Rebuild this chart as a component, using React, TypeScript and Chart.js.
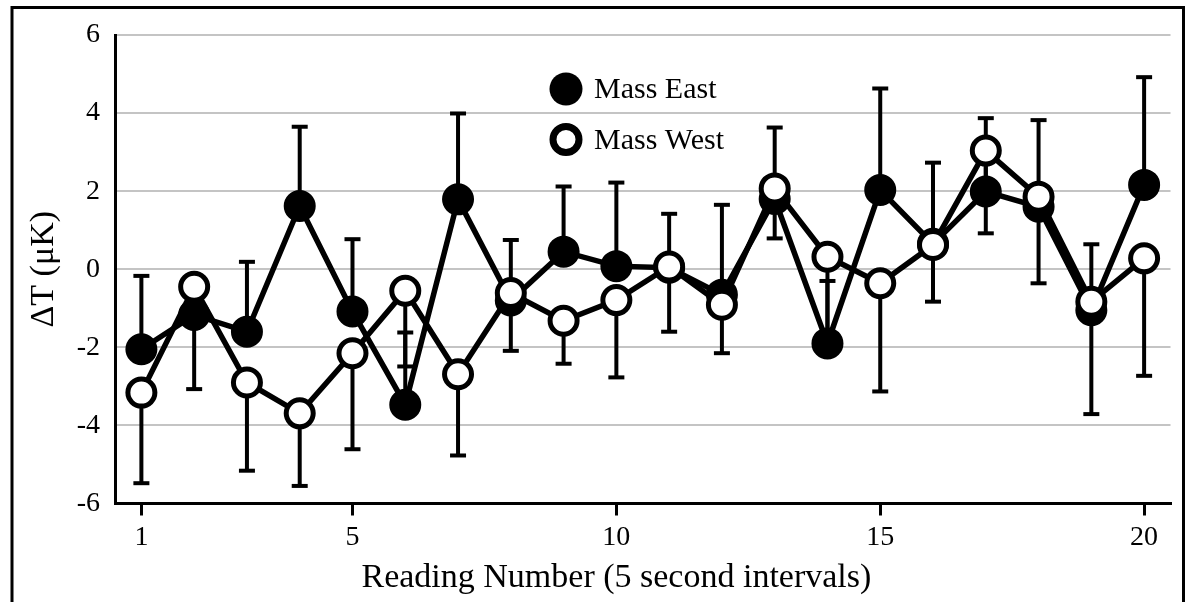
import React, { useEffect, useRef } from "react";
import { Chart, registerables } from "chart.js";

Chart.register(...registerables);

// ---- data ----
const readings = [1, 2, 3, 4, 5, 6, 7, 8, 9, 10, 11, 12, 13, 14, 15, 16, 17, 18, 19, 20];
const massEast = [-2.05, -1.17, -1.6, 1.62, -1.08, -3.47, 1.79, -0.8, 0.45, 0.08, 0.04, -0.65, 1.8, -1.9, 2.03, 0.65, 1.99, 1.6, -1.05, 2.16];
const massEastErrUp = [1.88, 0.7, 1.79, 2.03, 1.85, 1.85, 2.2, 1.55, 1.67, 2.14, 1.38, 2.3, 1.83, 1.6, 2.6, 2.08, 1.88, 2.22, 1.69, 2.76];
const massWest = [-3.16, -0.45, -2.9, -3.69, -2.15, -0.55, -2.69, -0.61, -1.32, -0.79, 0.07, -0.91, 2.07, 0.32, -0.36, 0.62, 3.04, 1.86, -0.83, 0.28];
const massWestErrDown = [2.32, 2.62, 2.26, 1.86, 2.46, 1.94, 2.08, 1.48, 1.1, 1.98, 1.67, 1.24, 1.28, 2.1, 2.77, 1.45, 2.12, 2.22, 2.88, 3.01];
const xTickValues = [1, 5, 10, 15, 20];
const yTickValues = [-6, -4, -2, 0, 2, 4, 6];
const seriesNames = ["Mass East", "Mass West"];
const xTitle = "Reading Number (5 second intervals)";
const yTitle = "ΔT (μK)";

const FONT = "'Liberation Serif', 'Times New Roman', Times, serif";
const W = 1189;
const H = 602;

const framePlugin = {
  id: "frame",
  beforeDraw(chart: any) {
    const ctx = chart.ctx;
    ctx.save();
    ctx.fillStyle = "#fff";
    ctx.fillRect(0, 0, chart.width, chart.height);
    ctx.strokeStyle = "#000";
    ctx.lineWidth = 3;
    ctx.beginPath();
    ctx.moveTo(12, chart.height + 5);
    ctx.lineTo(12, 7.5);
    ctx.lineTo(1183.5, 7.5);
    ctx.lineTo(1183.5, chart.height + 5);
    ctx.stroke();
    ctx.restore();
  },
};

const errorBarPlugin = {
  id: "errorBars",
  beforeDatasetsDraw(chart: any) {
    const { ctx } = chart;
    const xs = chart.scales.x;
    const ys = chart.scales.y;
    ctx.save();
    ctx.strokeStyle = "#000";
    ctx.lineWidth = 4;
    ctx.lineCap = "butt";
    const draw = (vals: number[], errs: number[], dir: number) => {
      vals.forEach((v, i) => {
        const px = xs.getPixelForValue(readings[i]);
        const p0 = ys.getPixelForValue(v);
        const p1 = ys.getPixelForValue(v + dir * errs[i]);
        ctx.beginPath();
        ctx.moveTo(px, p0);
        ctx.lineTo(px, p1);
        ctx.stroke();
        ctx.beginPath();
        ctx.moveTo(px - 8, p1);
        ctx.lineTo(px + 8, p1);
        ctx.stroke();
      });
    };
    draw(massEast, massEastErrUp, 1);
    draw(massWest, massWestErrDown, -1);
    ctx.restore();
  },
};

const legendPlugin = {
  id: "customLegend",
  afterDraw(chart: any) {
    const { ctx, chartArea } = chart;
    const cx = chartArea.left + 451;
    const y1 = chartArea.top + 54;
    const y2 = chartArea.top + 104.5;
    ctx.save();
    ctx.fillStyle = "#000";
    ctx.beginPath();
    ctx.arc(cx, y1, 16.5, 0, Math.PI * 2);
    ctx.fill();
    ctx.beginPath();
    ctx.arc(cx, y2, 13, 0, Math.PI * 2);
    ctx.fillStyle = "#fff";
    ctx.fill();
    ctx.lineWidth = 7;
    ctx.strokeStyle = "#000";
    ctx.stroke();
    ctx.fillStyle = "#000";
    ctx.font = `30px ${FONT}`;
    ctx.textBaseline = "middle";
    ctx.textAlign = "left";
    ctx.fillText(seriesNames[0], cx + 28, y1 + 1);
    ctx.fillText(seriesNames[1], cx + 28, y2 + 2);
    // x axis title (sits left of the plot centre in the original)
    ctx.font = `34px ${FONT}`;
    ctx.textBaseline = "alphabetic";
    ctx.textAlign = "left";
    ctx.fillText(xTitle, chartArea.left + 246.5, chart.height - 15.3);
    ctx.restore();
  },
};

export default function App() {
  const canvasRef = useRef<HTMLCanvasElement | null>(null);

  useEffect(() => {
    const canvas = canvasRef.current;
    if (!canvas) return;
    const chart = new Chart(canvas, {
      type: "line",
      data: {
        datasets: [
          {
            label: seriesNames[0],
            data: readings.map((r, i) => ({ x: r, y: massEast[i] })),
            borderColor: "#000",
            borderWidth: 5.5,
            backgroundColor: "#000",
            pointRadius: 15,
            pointBorderWidth: 2,
            pointBorderColor: "#000",
            pointBackgroundColor: "#000",
            tension: 0,
            clip: false,
            order: 1,
          },
          {
            label: seriesNames[1],
            data: readings.map((r, i) => ({ x: r, y: massWest[i] })),
            borderColor: "#000",
            borderWidth: 5.5,
            backgroundColor: "#fff",
            pointRadius: 13.5,
            pointBorderWidth: 5,
            pointBorderColor: "#000",
            pointBackgroundColor: "#fff",
            tension: 0,
            clip: false,
            order: 0,
          },
        ],
      },
      options: {
        responsive: false,
        animation: false,
        events: [],
        layout: { padding: { left: 0, top: 35, right: 9, bottom: 0 } },
        plugins: {
          legend: { display: false },
          tooltip: { enabled: false },
        },
        scales: {
          x: {
            type: "linear",
            min: 0.5,
            max: 20.5,
            afterBuildTicks: (s: any) => {
              s.ticks = xTickValues.map((v) => ({ value: v }));
            },
            afterFit: (s: any) => {
              s.height = 98.5;
            },
            grid: {
              display: true,
              drawOnChartArea: false,
              drawTicks: true,
              tickLength: 12,
              color: "#000",
              lineWidth: 3,
            },
            border: { display: true, color: "#000", width: 3 },
            ticks: {
              font: { family: FONT, size: 28 },
              color: "#000",
              padding: 5,
              maxRotation: 0,
              autoSkip: false,
              callback: (v: any) => String(v),
            },
            title: { display: false, text: xTitle },
          },
          y: {
            type: "linear",
            min: -6,
            max: 6,
            afterBuildTicks: (s: any) => {
              s.ticks = yTickValues.map((v) => ({ value: v }));
            },
            afterFit: (s: any) => {
              s.width = 115;
            },
            grid: {
              drawTicks: false,
              lineWidth: 2,
              color: (c: any) => (c.tick && c.tick.value === -6 ? "rgba(0,0,0,0)" : "#c4c4c4"),
            },
            border: { display: true, color: "#000", width: 3 },
            ticks: {
              font: { family: FONT, size: 28 },
              color: "#000",
              padding: 15,
              callback: (v: any) => String(v),
            },
            title: {
              display: true,
              text: yTitle,
              font: { family: FONT, size: 34 },
              color: "#000",
              padding: { top: 24, bottom: 0 },
            },
          },
        },
      } as any,
      plugins: [framePlugin, errorBarPlugin, legendPlugin],
    });
    return () => chart.destroy();
  }, []);

  return (
    <canvas
      ref={canvasRef}
      width={W}
      height={H}
      style={{ display: "block", position: "fixed", left: 0, top: 0, width: W, height: H }}
    />
  );
}
